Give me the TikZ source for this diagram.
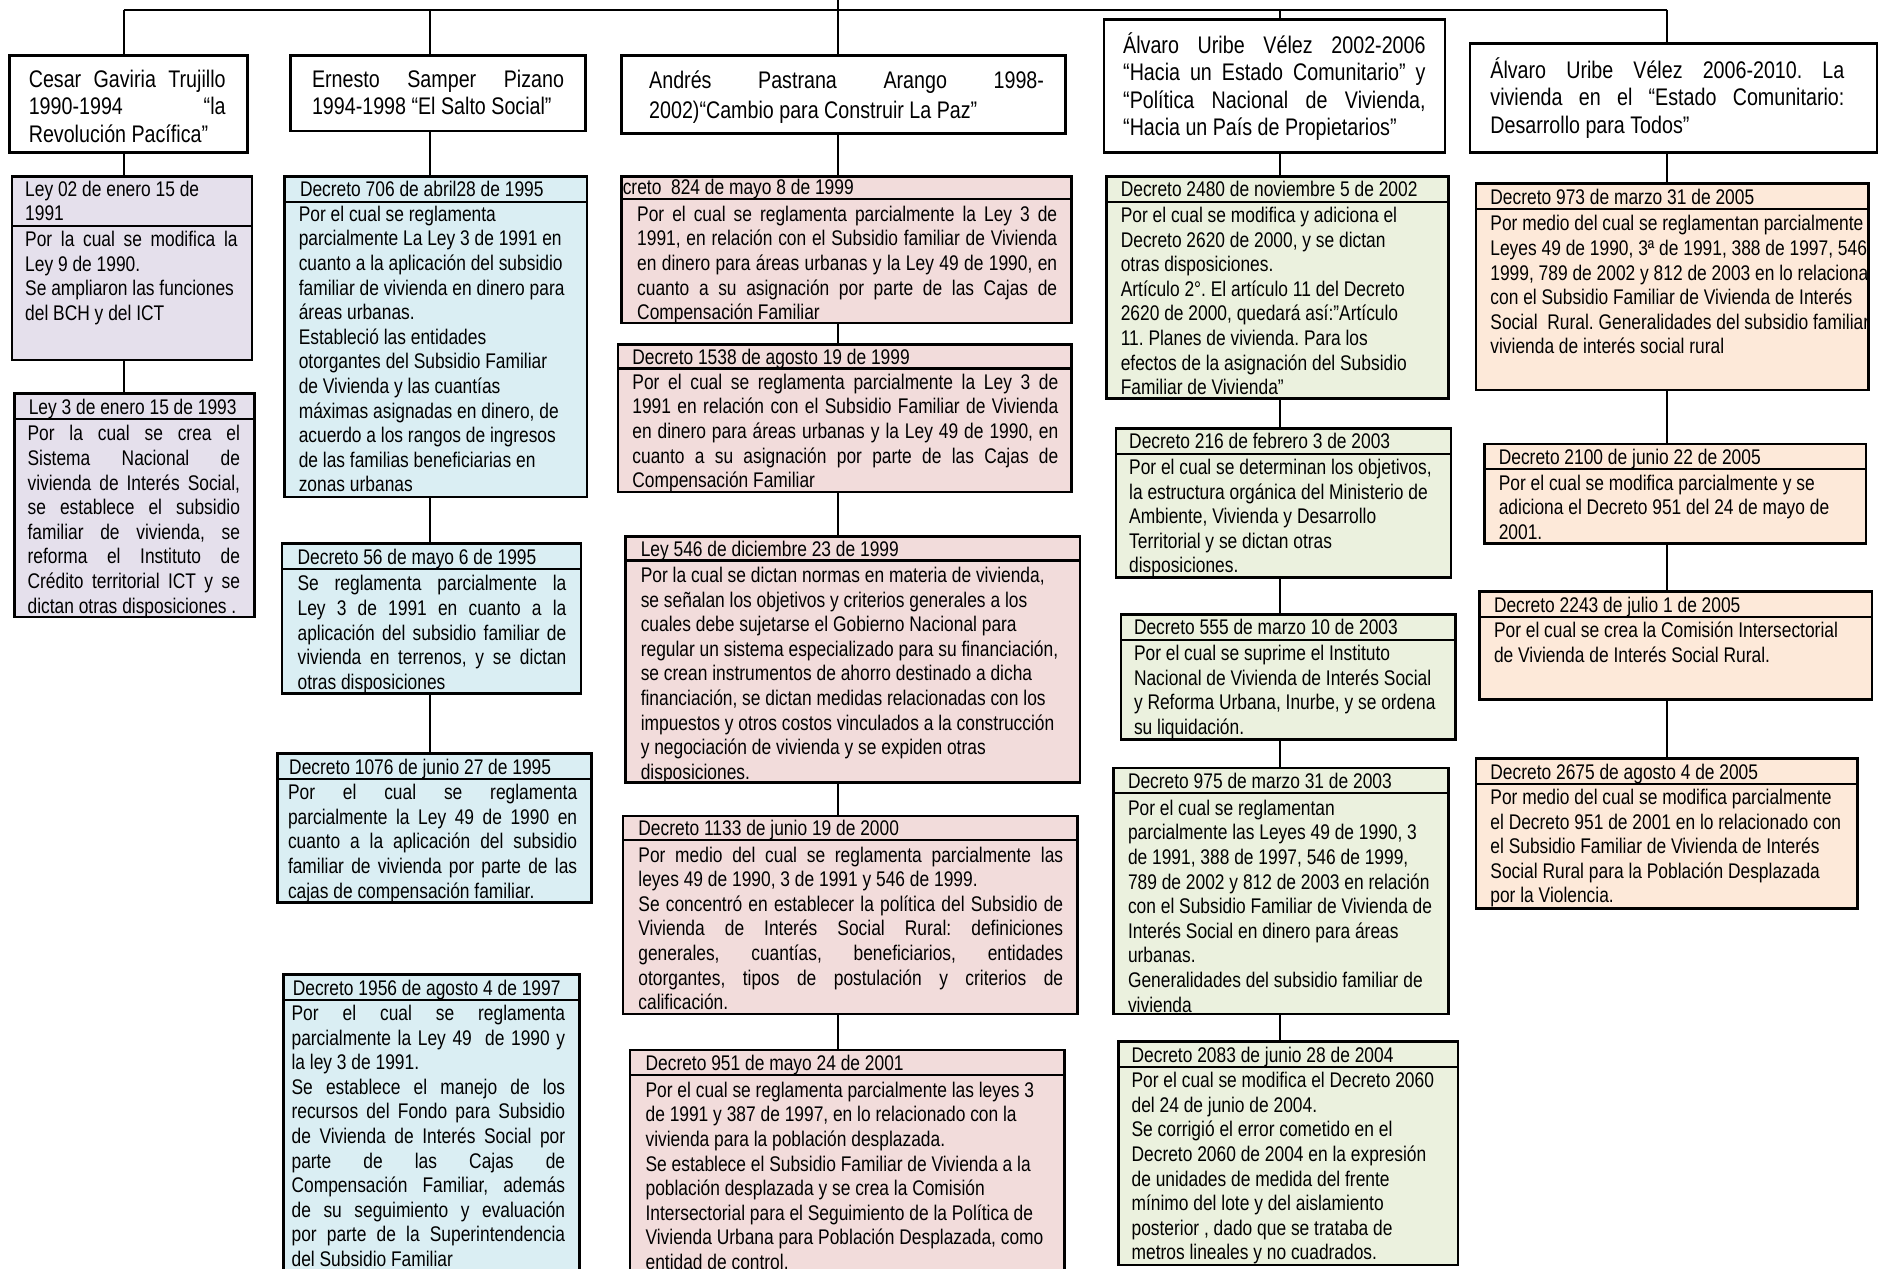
\documentclass[tikz,border=0pt]{standalone}
\usepackage{fontspec}
\newfontfamily\narrowfont{Liberation Sans}[FakeStretch=0.82]
\newcommand\bodyf{\narrowfont\fontsize{10.6}{12.3}\selectfont}
\newcommand\headf{\narrowfont\fontsize{12}{13.6}\selectfont}
\newcommand\jline[1]{\makebox[\linewidth][s]{\spaceskip=0pt\xspaceskip=0pt\relax #1}}
\frenchspacing
\definecolor{cpur}{HTML}{E5E0EC}
\definecolor{cblu}{HTML}{DAEEF3}
\definecolor{cpnk}{HTML}{F2DCDB}
\definecolor{cgrn}{HTML}{EBF1DE}
\definecolor{cpch}{HTML}{FDE9D9}
\tikzset{
  bx/.style={draw=black, line width=1.3pt, anchor=north west, inner sep=0pt, outer sep=0pt},
  sepl/.style={draw=black, line width=1.1pt},
  conn/.style={draw=black, line width=1pt},
  natsp/.style={execute at begin node={\frenchspacing\spaceskip=0pt\relax\xspaceskip=0pt\relax\hyphenpenalty=10000\relax\exhyphenpenalty=10000\relax}},
  tb/.style={anchor=base west, inner sep=0pt, outer sep=0pt, align=left, font=\bodyf, text width=420*0.6pt, natsp},
  hb/.style={anchor=base west, inner sep=0pt, outer sep=0pt, align=left, font=\headf, natsp},
}
% name, x1, y1, x2, y2, fill, separator y
\newcommand\lawbox[7]{%
  \node[bx, fill=#6, minimum width={(#4-#2)*0.6pt}, minimum height={(#5-#3)*0.6pt}] (#1) at (#2,#3) {};
  \draw[sepl] (#1.west |- 0,#7) -- (#1.east |- 0,#7);}
\newcommand\headbox[5]{%
  \node[bx, fill=white, minimum width={(#4-#2)*0.6pt}, minimum height={(#5-#3)*0.6pt}] (#1) at (#2,#3) {};}
\begin{document}
\begin{tikzpicture}[x=0.6pt,y=-0.6pt]
\useasboundingbox (0,0) rectangle (1567.5,1056.7);
\clip (0,0) rectangle (1567.5,1056.7);
\fill[white] (0,0) rectangle (1567.5,1056.7);
% column coordinates on the top line
\coordinate (c1) at (103,8);
\coordinate (c2) at (358,8);
\coordinate (c3) at (698,8);
\coordinate (c4) at (1067,8);
\coordinate (c5) at (1389,8);
\coordinate (topc) at (698,-3);
% ---------- headers ----------
\headbox{g}{8}{46}{206}{127}
\node[hb, text width=164*0.6pt, font={\narrowfont\fontsize{12}{13.56}\selectfont}] (gt) at (24,73.2) {\jline{Cesar Gaviria Trujillo}\\ \jline{1990-1994 “la}\\ \mbox{Revolución Pacífica”}};
\headbox{s}{242}{46}{488}{109}
\node[hb, text width=210*0.6pt, font={\narrowfont\fontsize{12}{13.56}\selectfont}] (st) at (260,73.2) {\jline{Ernesto Samper Pizano}\\ \mbox{1994-1998 “El Salto Social”}};
\headbox{p}{518}{46}{888}{111}
\node[hb, text width=329*0.6pt, font={\narrowfont\fontsize{12}{15}\selectfont}] (pt) at (541,74) {\jline{Andrés Pastrana Arango 1998-}\\ \mbox{2002)“Cambio para Construir La Paz”}};
\headbox{u1}{920}{16}{1204}{127}
\node[hb, text width=252*0.6pt, font={\narrowfont\fontsize{12}{13.62}\selectfont}] (u1t) at (936,44.7) {\jline{Álvaro Uribe Vélez 2002-2006}\\ \jline{“Hacia un Estado Comunitario” y}\\ \jline{“Política Nacional de Vivienda,}\\ \mbox{“Hacia un País de Propietarios”}};
\headbox{u2}{1225}{36}{1564}{127}
\node[hb, text width=295*0.6pt, font={\narrowfont\fontsize{12}{13.8}\selectfont}] (u2t) at (1242,65.2) {\jline{Álvaro Uribe Vélez 2006-2010. La}\\ \jline{vivienda en el “Estado Comunitario:}\\ \mbox{Desarrollo para Todos”}};
% ---------- column 1 ----------
\lawbox{l02}{10}{147}{210}{300}{cpur}{188}
\node[tb, font={\narrowfont\fontsize{10.6}{12}\selectfont}] (l02a) at (21,163.4) {Ley 02 de enero 15 de\\ 1991};
\node[tb, text width=177*0.6pt] (l02b) at (21,205.4) {\jline{Por la cual se modifica la}\\ \mbox{Ley 9 de 1990.}\\ \mbox{Se ampliaron las funciones}\\ \mbox{del BCH y del ICT}};
\lawbox{l3}{12}{328}{212}{514}{cpur}{349}
\node[tb] (l3a) at (24,345.4) {Ley 3 de enero 15 de 1993};
\node[tb, text width=177*0.6pt] (l3b) at (23,367.4) {\jline{Por la cual se crea el}\\ \jline{Sistema Nacional de}\\ \jline{vivienda de Interés Social,}\\ \jline{se establece el subsidio}\\ \jline{familiar de vivienda, se}\\ \jline{reforma el Instituto de}\\ \jline{Crédito territorial ICT y se}\\ \mbox{dictan otras disposiciones .}};
% ---------- column 2 ----------
\lawbox{d706}{237}{147}{489}{414}{cblu}{168}
\node[tb] (d706a) at (250,163.4) {Decreto 706 de abril28 de 1995};
\node[tb] (d706b) at (249,184.4) {Por el cual se reglamenta\\ parcialmente La Ley 3 de 1991 en\\ cuanto a la aplicación del subsidio\\ familiar de vivienda en dinero para\\ áreas urbanas.\\ Estableció las entidades\\ otorgantes del Subsidio Familiar\\ de Vivienda y las cuantías\\ máximas asignadas en dinero, de\\ acuerdo a los rangos de ingresos\\ de las familias beneficiarias en\\ zonas urbanas};
\lawbox{d56}{235}{453}{484}{578}{cblu}{474}
\node[tb] (d56a) at (248,470.4) {Decreto 56 de mayo 6 de 1995};
\node[tb, text width=224*0.6pt] (d56b) at (248,492.4) {\jline{Se reglamenta parcialmente la}\\ \jline{Ley 3 de 1991 en cuanto a la}\\ \jline{aplicación del subsidio familiar de}\\ \jline{vivienda en terrenos, y se dictan}\\ \mbox{otras disposiciones}};
\lawbox{d1076}{231}{628}{493}{752}{cblu}{649}
\node[tb] (d1076a) at (241,645.4) {Decreto 1076 de junio 27 de 1995};
\node[tb, text width=241*0.6pt] (d1076b) at (240,666.4) {\jline{Por el cual se reglamenta}\\ \jline{parcialmente la Ley 49 de 1990 en}\\ \jline{cuanto a la aplicación del subsidio}\\ \jline{familiar de vivienda por parte de las}\\ \mbox{cajas de compensación familiar.}};
\lawbox{d1956}{236}{812}{483}{1064}{cblu}{833}
\node[tb] (d1956a) at (244,829.4) {Decreto 1956 de agosto 4 de 1997};
\node[tb, text width=228*0.6pt] (d1956b) at (243,850.4) {\jline{Por el cual se reglamenta}\\ \jline{parcialmente la Ley 49~ de 1990 y}\\ \mbox{la ley 3 de 1991.}\\ \jline{Se establece el manejo de los}\\ \jline{recursos del Fondo para Subsidio}\\ \jline{de Vivienda de Interés Social por}\\ \jline{parte de las Cajas de}\\ \jline{Compensación Familiar, además}\\ \jline{de su seguimiento y evaluación}\\ \jline{por parte de la Superintendencia}\\ \mbox{del Subsidio Familiar}};
% ---------- column 3 ----------
\lawbox{d824}{518}{147}{893}{269}{cpnk}{166}
\node[tb] (d824a) at (519,162.4) {creto~ 824 de mayo 8 de 1999};
\node[tb, text width=350*0.6pt] (d824b) at (531,184.4) {\jline{Por el cual se reglamenta parcialmente la Ley 3 de}\\ \jline{1991, en relación con el Subsidio familiar de Vivienda}\\ \jline{en dinero para áreas urbanas y la Ley 49 de 1990, en}\\ \jline{cuanto a su asignación por parte de las Cajas de}\\ \mbox{Compensación Familiar}};
\lawbox{d1538}{515}{287}{893}{410}{cpnk}{307}
\node[tb] (d1538a) at (527,303.4) {Decreto 1538 de agosto 19 de 1999};
\node[tb, text width=355*0.6pt] (d1538b) at (527,324.4) {\jline{Por el cual se reglamenta parcialmente la Ley 3 de}\\ \jline{1991 en relación con el Subsidio Familiar de Vivienda}\\ \jline{en dinero para áreas urbanas y la Ley 49 de 1990, en}\\ \jline{cuanto a su asignación por parte de las Cajas de}\\ \mbox{Compensación Familiar}};
\lawbox{l546}{521}{447}{900}{652}{cpnk}{467}
\node[tb] (l546a) at (534,463.4) {Ley 546 de diciembre 23 de 1999};
\node[tb] (l546b) at (534,485.4) {Por la cual se dictan normas en materia de vivienda,\\ se señalan los objetivos y criterios generales a los\\ cuales debe sujetarse el Gobierno Nacional para\\ regular un sistema especializado para su financiación,\\ se crean instrumentos de ahorro destinado a dicha\\ financiación, se dictan medidas relacionadas con los\\ impuestos y otros costos vinculados a la construcción\\ y negociación de vivienda y se expiden otras\\ disposiciones.};
\lawbox{d1133}{519}{680}{898}{845}{cpnk}{700}
\node[tb] (d1133a) at (532,696.4) {Decreto 1133 de junio 19 de 2000};
\node[tb, text width=354*0.6pt] (d1133b) at (532,718.4) {\jline{Por medio del cual se reglamenta parcialmente las}\\ \mbox{leyes 49 de 1990, 3 de 1991 y 546 de 1999.}\\ \jline{Se concentró en establecer la política del Subsidio de}\\ \jline{Vivienda de Interés Social Rural: definiciones}\\ \jline{generales, cuantías, beneficiarios, entidades}\\ \jline{otorgantes, tipos de postulación y criterios de}\\ \mbox{calificación.}};
\lawbox{d951}{525}{875}{887}{1064}{cpnk}{896}
\node[tb] (d951a) at (538,892.4) {Decreto 951 de mayo 24 de 2001};
\node[tb] (d951b) at (538,914.4) {Por el cual se reglamenta parcialmente las leyes 3\\ de 1991 y 387 de 1997, en lo relacionado con la\\ vivienda para la población desplazada.\\ Se establece el Subsidio Familiar de Vivienda a la\\ población desplazada y se crea la Comisión\\ Intersectorial para el Seguimiento de la Política de\\ Vivienda Urbana para Población Desplazada, como\\ entidad de control.};
% ---------- column 4 ----------
\lawbox{d2480}{922}{147}{1207}{332}{cgrn}{168}
\node[tb] (d2480a) at (934,163.4) {Decreto 2480 de noviembre 5 de 2002};
\node[tb] (d2480b) at (934,185.4) {Por el cual se modifica y adiciona el\\ Decreto 2620 de 2000, y se dictan\\ otras disposiciones.\\ Artículo 2°. El artículo 11 del Decreto\\ 2620 de 2000, quedará así:”Artículo\\ 11. Planes de vivienda. Para los\\ efectos de la asignación del Subsidio\\ Familiar de Vivienda”};
\lawbox{d216}{930}{357}{1209}{481}{cgrn}{378}
\node[tb] (d216a) at (941,373.4) {Decreto 216 de febrero 3 de 2003};
\node[tb] (d216b) at (941,395.4) {Por el cual se determinan los objetivos,\\ la estructura orgánica del Ministerio de\\ Ambiente, Vivienda y Desarrollo\\ Territorial y se dictan otras\\ disposiciones.};
\lawbox{d555}{934}{512}{1213}{616}{cgrn}{533}
\node[tb] (d555a) at (945,528.4) {Decreto 555 de marzo 10 de 2003};
\node[tb] (d555b) at (945,550.4) {Por el cual se suprime el Instituto\\ Nacional de Vivienda de Interés Social\\ y Reforma Urbana, Inurbe, y se ordena\\ su liquidación.};
\lawbox{d975}{928}{640}{1207}{845}{cgrn}{661}
\node[tb] (d975a) at (940,657.4) {Decreto 975 de marzo 31 de 2003};
\node[tb] (d975b) at (940,679.4) {Por el cual se reglamentan\\ parcialmente las Leyes 49 de 1990, 3\\ de 1991, 388 de 1997, 546 de 1999,\\ 789 de 2002 y 812 de 2003 en relación\\ con el Subsidio Familiar de Vivienda de\\ Interés Social en dinero para áreas\\ urbanas.\\ Generalidades del subsidio familiar de\\ vivienda};
\lawbox{d2083}{932}{868}{1215}{1054}{cgrn}{889}
\node[tb] (d2083a) at (943,885.4) {Decreto 2083 de junio 28 de 2004};
\node[tb] (d2083b) at (943,906.4) {Por el cual se modifica el Decreto 2060\\ del 24 de junio de 2004.\\ Se corrigió el error cometido en el\\ Decreto 2060 de 2004 en la expresión\\ de unidades de medida del frente\\ mínimo del lote y del aislamiento\\ posterior , dado que se trataba de\\ metros lineales y no cuadrados.};
% ---------- column 5 ----------
\lawbox{d973}{1230}{153}{1557}{325}{cpch}{174}
\node[tb] (d973a) at (1242,170.4) {Decreto 973 de marzo 31 de 2005};
\begin{scope}
\clip (d973.north west) rectangle (d973.south east);
\node[tb] (d973b) at (1242,192.4) {Por medio del cual se reglamentan parcialmente las\\ Leyes 49 de 1990, 3ª de 1991, 388 de 1997, 546 de\\ 1999, 789 de 2002 y 812 de 2003 en lo relacionado\\ con el Subsidio Familiar de Vivienda de Interés\\ Social~ Rural. Generalidades del subsidio familiar de\\ vivienda de interés social rural};
\end{scope}
\draw[bx, fill=none] (d973.north west) rectangle (d973.south east);
\lawbox{d2100}{1237}{370}{1555}{453}{cpch}{391}
\node[tb] (d2100a) at (1249,387.4) {Decreto 2100 de junio 22 de 2005};
\node[tb] (d2100b) at (1249,408.4) {Por el cual se modifica parcialmente y se\\ adiciona el Decreto 951 del 24 de mayo de\\ 2001.};
\lawbox{d2243}{1233}{493}{1560}{583}{cpch}{514}
\node[tb] (d2243a) at (1245,510.4) {Decreto 2243 de julio 1 de 2005};
\node[tb] (d2243b) at (1245,531.4) {Por el cual se crea la Comisión Intersectorial\\ de Vivienda de Interés Social Rural.};
\lawbox{d2675}{1230}{632}{1548}{757}{cpch}{653}
\node[tb] (d2675a) at (1242,649.4) {Decreto 2675 de agosto 4 de 2005};
\node[tb] (d2675b) at (1242,670.4) {Por medio del cual se modifica parcialmente\\ el Decreto 951 de 2001 en lo relacionado con\\ el Subsidio Familiar de Vivienda de Interés\\ Social Rural para la Población Desplazada\\ por la Violencia.};
% ---------- connectors ----------
\draw[conn] (c1) -- (c5);
\draw[conn] (c1) -- (c1 |- g.north);
\draw[conn] (c2) -- (c2 |- s.north);
\draw[conn] (topc) -- (c3 |- p.north);
\draw[conn] (c4) -- (c4 |- u1.north);
\draw[conn] (c5) -- (c5 |- u2.north);
\draw[conn] (c1 |- g.south) -- (c1 |- l02.north);
\draw[conn] (c1 |- l02.south) -- (c1 |- l3.north);
\draw[conn] (c2 |- s.south) -- (c2 |- d706.north);
\draw[conn] (c2 |- d706.south) -- (c2 |- d56.north);
\draw[conn] (c2 |- d56.south) -- (c2 |- d1076.north);
\draw[conn] (c3 |- p.south) -- (c3 |- d824.north);
\draw[conn] (c3 |- d824.south) -- (c3 |- d1538.north);
\draw[conn] (c3 |- d1538.south) -- (c3 |- l546.north);
\draw[conn] (c3 |- l546.south) -- (c3 |- d1133.north);
\draw[conn] (c3 |- d1133.south) -- (c3 |- d951.north);
\draw[conn] (c4 |- u1.south) -- (c4 |- d2480.north);
\draw[conn] (c4 |- d2480.south) -- (c4 |- d216.north);
\draw[conn] (c4 |- d216.south) -- (c4 |- d555.north);
\draw[conn] (c4 |- d555.south) -- (c4 |- d975.north);
\draw[conn] (c4 |- d975.south) -- (c4 |- d2083.north);
\draw[conn] (c5 |- u2.south) -- (c5 |- d973.north);
\draw[conn] (c5 |- d973.south) -- (c5 |- d2100.north);
\draw[conn] (c5 |- d2100.south) -- (c5 |- d2243.north);
\draw[conn] (c5 |- d2243.south) -- (c5 |- d2675.north);
\end{tikzpicture}
\end{document}
